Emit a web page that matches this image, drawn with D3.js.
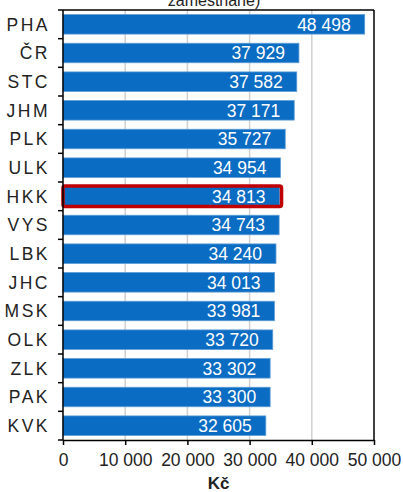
<!DOCTYPE html>
<html lang="cs">
<head>
<meta charset="UTF-8">
<script src="https://d3js.org/d3.v7.min.js"></script>
<style>
  body { margin: 0; background: #fff; font-family: Arial, "Liberation Sans", sans-serif; }
  .grid line { stroke: #d0d0d0; stroke-width: 1.5; }
  .axis path, .axis line { stroke: #000; stroke-width: 1.5; }
  .axis text { font-size: 17.5px; fill: #222; }
</style>
</head>
<body>
<script>
// regions and average monthly wage (Kč)
const regions = ['PHA', 'ČR', 'STC', 'JHM', 'PLK', 'ULK', 'HKK', 'VYS', 'LBK', 'JHC', 'MSK', 'OLK', 'ZLK', 'PAK', 'KVK'];
const wages = [48498, 37929, 37582, 37171, 35727, 34954, 34813, 34743, 34240, 34013, 33981, 33720, 33302, 33300, 32605];
const xTicks = [0, 10000, 20000, 30000, 40000, 50000];
const highlight = 'HKK';

const data = regions.map((r, i) => ({ region: r, value: wages[i] }));

const W = 403, H = 492;
const margin = { top: 10, right: 29, bottom: 52, left: 63 };
const width = W - margin.left - margin.right;
const height = H - margin.top - margin.bottom;

const svg = d3.select('body').append('svg').attr('width', W).attr('height', H);

// title, partly cut off at the top as in the source
svg.append('text')
  .attr('x', 214).attr('y', 6)
  .attr('text-anchor', 'middle')
  .style('font-size', '16px').style('fill', '#222')
  .text('zaměstnané)');

const g = svg.append('g').attr('transform', `translate(${margin.left},${margin.top})`);

const x = d3.scaleLinear().domain([0, 50000]).range([0, width]);
const y = d3.scaleBand().domain(regions).range([0, height]).paddingInner(0.32).paddingOuter(0.16);

const fmt = v => d3.format(',')(v).replace(/,/g, ' ');

// gridlines
g.append('g').attr('class', 'grid')
  .selectAll('line').data(xTicks.slice(1, -1)).join('line')
  .attr('x1', d => x(d)).attr('x2', d => x(d))
  .attr('y1', 0).attr('y2', height);

// frame top/right
g.append('line').attr('x1', 0).attr('x2', width).attr('y1', 0).attr('y2', 0)
  .attr('stroke', '#000').attr('stroke-width', 1.5);
g.append('line').attr('x1', width).attr('x2', width).attr('y1', 0).attr('y2', height)
  .attr('stroke', '#000').attr('stroke-width', 1.5);

// bars
g.selectAll('rect.bar').data(data).join('rect')
  .attr('class', 'bar')
  .attr('x', 0)
  .attr('y', d => y(d.region))
  .attr('width', d => x(d.value))
  .attr('height', y.bandwidth())
  .attr('fill', '#0a6cc2')
  .attr('stroke', '#5a9ad6')
  .attr('stroke-width', 0.8);

// highlighted region outline
const hd = data.find(d => d.region === highlight);
g.append('rect')
  .attr('x', 0)
  .attr('y', y(hd.region) - 0.5)
  .attr('width', x(hd.value) + 2)
  .attr('height', y.bandwidth() + 1)
  .attr('rx', 2)
  .attr('fill', 'none')
  .attr('stroke', '#c00000')
  .attr('stroke-width', 3.5);

// value labels
g.selectAll('text.val').data(data).join('text')
  .attr('class', 'val')
  .attr('x', d => x(d.value) - 14)
  .attr('y', d => y(d.region) + y.bandwidth() / 2)
  .attr('dy', '0.36em')
  .attr('text-anchor', 'end')
  .style('font-size', '17.5px')
  .style('fill', '#fff')
  .text(d => fmt(d.value));

// x axis
g.append('g').attr('class', 'axis')
  .attr('transform', `translate(0,${height})`)
  .call(d3.axisBottom(x).tickValues(xTicks).tickFormat(fmt).tickSize(5).tickSizeOuter(0).tickPadding(9));

// y axis: ticks at band boundaries
const yAxis = g.append('g').attr('class', 'axis');
yAxis.append('line').attr('x1', 0).attr('x2', 0).attr('y1', 0).attr('y2', height);
yAxis.selectAll('line.tk').data(d3.range(regions.length + 1)).join('line')
  .attr('class', 'tk')
  .attr('x1', -5).attr('x2', 0)
  .attr('y1', i => i * height / regions.length)
  .attr('y2', i => i * height / regions.length);
yAxis.selectAll('text.cat').data(regions).join('text')
  .attr('class', 'cat')
  .attr('x', -13)
  .attr('y', d => y(d) + y.bandwidth() / 2)
  .attr('dy', '0.36em')
  .attr('text-anchor', 'end')
  .style('letter-spacing', '2.5px')
  .text(d => d);

// axis title
svg.append('text')
  .attr('x', margin.left + width / 2)
  .attr('y', H - 3)
  .attr('text-anchor', 'middle')
  .style('font-size', '17px').style('font-weight', 'bold').style('fill', '#222')
  .text('Kč');
</script>
</body>
</html>
